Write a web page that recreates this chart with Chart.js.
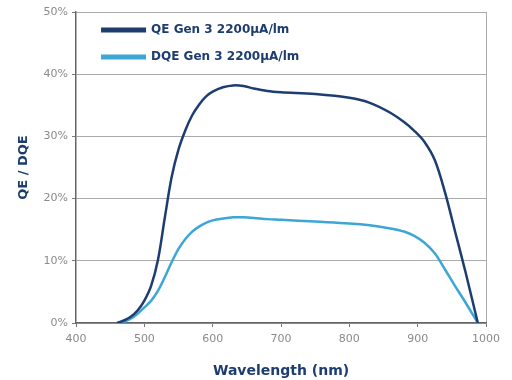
<!DOCTYPE html>
<html>
<head>
<meta charset="utf-8">
<script src="https://cdn.jsdelivr.net/npm/chart.js@4"></script>
<style>
  body { margin: 0; background: #fff; }
  #wrap { width: 512px; height: 380px; }
</style>
</head>
<body>
<div id="wrap"><canvas id="qeChart" width="512" height="380"></canvas></div>
<script>
  // wavelength in nm, shared by both curves
  const wavelengths = [460, 470, 480, 490, 500, 510, 520, 530, 540, 550, 560, 570, 580, 590, 600, 615, 630, 645, 660, 680, 700, 750, 800, 830, 860, 880, 895, 910, 925, 940, 955, 970, 988];
  const qeValues = [0, 0.4, 1.0, 2.0, 3.6, 6.0, 10.2, 17, 23.5, 27.9, 31.0, 33.4, 35.1, 36.4, 37.2, 37.9, 38.2, 38.1, 37.7, 37.3, 37.1, 36.8, 36.2, 35.4, 33.8, 32.3, 30.9, 29.1, 26.2, 21, 14.6, 8.2, 0];
  const dqeValues = [0, 0.2, 0.7, 1.5, 2.5, 3.6, 5.2, 7.4, 9.8, 11.9, 13.5, 14.7, 15.5, 16.1, 16.5, 16.8, 17, 17, 16.9, 16.7, 16.6, 16.3, 16, 15.7, 15.2, 14.7, 14.0, 12.9, 11.2, 8.6, 5.9, 3.3, 0];
  const xTicks = [400, 500, 600, 700, 800, 900, 1000];
  const yTicks = [0, 10, 20, 30, 40, 50];

  const navy = '#1d3d70';
  const lightBlue = '#3ea6d4';
  const fontFamily = 'DejaVu Sans, Verdana, sans-serif';

  const toPoints = vals => vals.map((v, i) => ({ x: wavelengths[i], y: v }));

  // legend drawn inside the plot, top-left
  const insideLegend = {
    id: 'insideLegend',
    afterDatasetsDraw(chart) {
      const { ctx, chartArea } = chart;
      const x0 = chartArea.left + 25;
      let y = chartArea.top + 18;
      ctx.save();
      ctx.font = 'bold 12px ' + fontFamily;
      ctx.textBaseline = 'middle';
      chart.data.datasets.forEach(ds => {
        ctx.fillStyle = ds.borderColor;
        ctx.fillRect(x0, y - 2.5, 45, 5);
        ctx.fillStyle = navy;
        ctx.fillText(ds.label, x0 + 50, y);
        y += 27;
      });
      ctx.restore();
    }
  };

  const ctx = document.getElementById('qeChart').getContext('2d');
  const chart = new Chart(ctx, {
    type: 'line',
    data: {
      datasets: [{
        label: 'QE Gen 3 2200µA/lm',
        data: toPoints(qeValues),
        borderColor: navy,
        backgroundColor: navy,
        borderWidth: 2.5,
        pointRadius: 0,
        tension: 0.35
      }, {
        label: 'DQE Gen 3 2200µA/lm',
        data: toPoints(dqeValues),
        borderColor: lightBlue,
        backgroundColor: lightBlue,
        borderWidth: 2.5,
        pointRadius: 0,
        tension: 0.35
      }]
    },
    plugins: [insideLegend],
    options: {
      responsive: false,
      animation: false,
      layout: { padding: { left: 16, right: 26, top: 12, bottom: 0 } },
      plugins: {
        tooltip: { enabled: false },
        legend: { display: false }
      },
      scales: {
        x: {
          type: 'linear',
          min: 400,
          max: 1000,
          afterBuildTicks: axis => { axis.ticks = xTicks.map(v => ({ value: v })); },
          grid: {
            color: c => (c.tick && c.tick.value === 1000) ? '#aaaaaa' : 'rgba(0,0,0,0)',
            drawTicks: true,
            tickLength: 4,
            tickColor: '#777'
          },
          border: { color: '#666', width: 1.5 },
          ticks: {
            color: '#8a8a8a',
            font: { family: fontFamily, size: 11 },
            padding: 6,
            maxRotation: 0,
            callback: v => String(v)
          },
          title: {
            display: true,
            text: 'Wavelength (nm)',
            color: navy,
            font: { family: fontFamily, size: 14, weight: 'bold' },
            padding: { top: 11, bottom: 0 }
          }
        },
        y: {
          min: 0,
          max: 50,
          afterBuildTicks: axis => { axis.ticks = yTicks.map(v => ({ value: v })); },
          grid: { color: '#aaaaaa', drawTicks: true, tickLength: 4, tickColor: '#777' },
          border: { color: '#666', width: 1.5 },
          ticks: {
            color: '#8a8a8a',
            font: { family: fontFamily, size: 11 },
            padding: 4,
            callback: v => v + '%'
          },
          title: {
            display: true,
            text: 'QE / DQE',
            color: navy,
            font: { family: fontFamily, size: 13, weight: 'bold' },
            padding: { top: 0, bottom: 8 }
          }
        }
      }
    }
  });
</script>
</body>
</html>
